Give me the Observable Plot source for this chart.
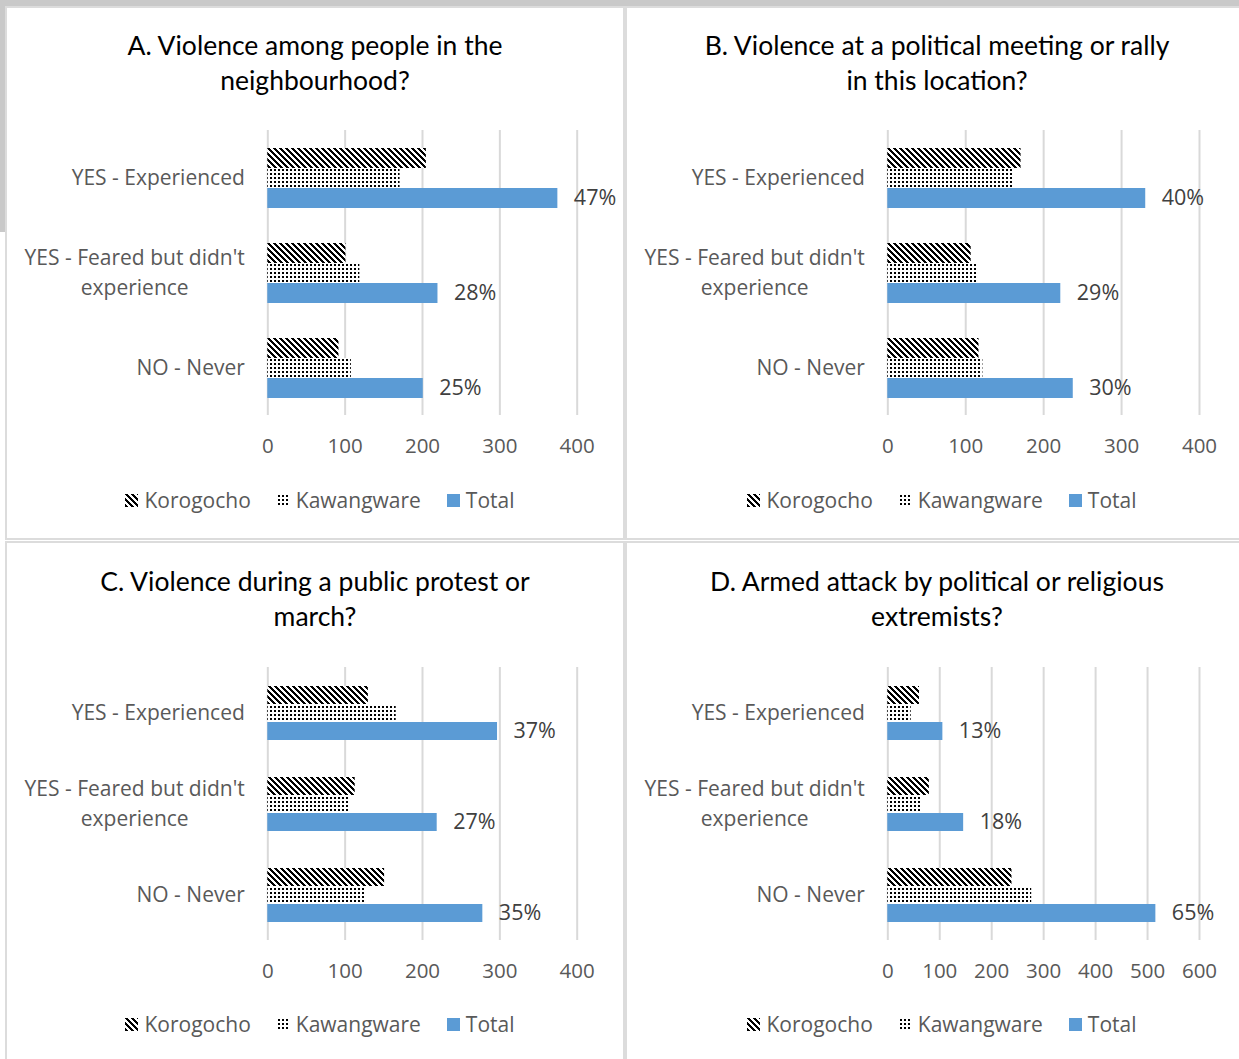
<!DOCTYPE html>
<html><head><meta charset="utf-8">
<script src="https://cdn.jsdelivr.net/npm/d3@7"></script>
<script src="https://cdn.jsdelivr.net/npm/@observablehq/plot@0.6"></script>
<style>
body{margin:0;background:#fff;width:1239px;height:1059px;overflow:hidden;position:relative;font-family:'Open Sans',sans-serif;}
.strip{position:absolute;background:#c9c9c9;}
.panel{position:absolute;box-sizing:border-box;border:2px solid #dcdcdc;background:#fff;}
.title{position:absolute;text-align:center;font-family:Lato,sans-serif;font-size:26.5px;line-height:35px;color:#000;white-space:nowrap;}
.legend{position:absolute;display:flex;justify-content:center;align-items:center;font-family:'Open Sans',sans-serif;font-size:21px;color:#595959;white-space:nowrap;}
.legend .item{display:flex;align-items:center;margin:0 13px;}
.legend svg{margin-right:6px;}
.plot{position:absolute;}
</style></head><body>
<svg width="0" height="0" style="position:absolute"><defs>
<pattern id="patKor" patternUnits="userSpaceOnUse" width="6" height="6">
  <rect width="6" height="6" fill="#fff"/>
  <g fill="#000" shape-rendering="crispEdges">
    <rect x="0" y="0" width="3" height="1"/>
    <rect x="1" y="1" width="3" height="1"/>
    <rect x="2" y="2" width="3" height="1"/>
    <rect x="3" y="3" width="3" height="1"/>
    <rect x="4" y="4" width="2" height="1"/><rect x="0" y="4" width="1" height="1"/>
    <rect x="5" y="5" width="1" height="1"/><rect x="0" y="5" width="2" height="1"/>
  </g>
</pattern>
<pattern id="patKaw" patternUnits="userSpaceOnUse" width="4" height="4">
  <rect width="4" height="4" fill="#fff"/>
  <rect x="1" y="1" width="2" height="2" fill="#000" shape-rendering="crispEdges"/>
</pattern>
</defs></svg>
<div class="strip" style="left:0;top:0;width:1239px;height:6px"></div>
<div class="strip" style="left:0;top:0;width:5px;height:232px"></div>
<script>
// ---- data ----
const categories = ["YES - Experienced", "YES - Feared but didn't experience", "NO - Never"];
const series = ["Korogocho", "Kawangware", "Total"];

const titleA = ["A. Violence among people in the", "neighbourhood?"];
const korogochoA = [205, 101, 92];
const kawangwareA = [171, 119, 108];
const totalA = [375, 220, 201];
const pctA = [47, 28, 25];

const titleB = ["B. Violence at a political meeting or rally", "in this location?"];
const korogochoB = [171, 107, 117];
const kawangwareB = [161, 114, 122];
const totalB = [331, 222, 238];
const pctB = [40, 29, 30];

const titleC = ["C. Violence during a public protest or", "march?"];
const korogochoC = [130, 113, 151];
const kawangwareC = [166, 106, 125];
const totalC = [297, 219, 278];
const pctC = [37, 27, 35];

const titleD = ["D. Armed attack by political or religious", "extremists?"];
const korogochoD = [61, 80, 239];
const kawangwareD = [45, 65, 277];
const totalD = [106, 146, 516];
const pctD = [13, 18, 65];

const xMaxA = 400, xMaxB = 400, xMaxC = 400, xMaxD = 600;

// ---- layout ----
const fills = ["url(#patKor)", "url(#patKaw)", "#5B9BD5"];
const panels = [
  {title: titleA, values: [korogochoA, kawangwareA, totalA], pct: pctA, xMax: xMaxA,
   box: [5, 6, 625, 540], plotX: [267.3, 576.7], plotY: [130, 415], outer: 0.875, titleTop: 27.5, legendY: 500},
  {title: titleB, values: [korogochoB, kawangwareB, totalB], pct: pctB, xMax: xMaxB,
   box: [625, 6, 1249, 540], plotX: [887.3, 1199], plotY: [130, 415], outer: 0.875, titleTop: 27.5, legendY: 500},
  {title: titleC, values: [korogochoC, kawangwareC, totalC], pct: pctC, xMax: xMaxC,
   box: [5, 541, 625, 1075], plotX: [267.3, 576.7], plotY: [667, 940], outer: 0.9, titleTop: 563.5, legendY: 1024},
  {title: titleD, values: [korogochoD, kawangwareD, totalD], pct: pctD, xMax: xMaxD,
   box: [625, 541, 1249, 1075], plotX: [887.3, 1199], plotY: [667, 940], outer: 0.9, titleTop: 563.5, legendY: 1024}
];

function el(tag, cls, style) {
  const e = document.createElement(tag);
  if (cls) e.className = cls;
  Object.assign(e.style, style || {});
  document.body.appendChild(e);
  return e;
}

for (const p of panels) {
  const [bx0, by0, bx1, by1] = p.box;
  el("div", "panel", {left: bx0 + "px", top: by0 + "px", width: (bx1 - bx0) + "px", height: (by1 - by0) + "px"});

  const t = el("div", "title", {left: bx0 + "px", width: (bx1 - bx0) + "px", top: p.titleTop + "px"});
  t.innerHTML = p.title.join("<br>");

  const rows = categories.flatMap((cat, i) => series.map((s, j) => ({cat, series: s, value: p.values[j][i]})));
  const totals = categories.map((cat, i) => ({cat, series: "Total", value: p.values[2][i], pct: p.pct[i]}));
  const ticks = d3.range(0, p.xMax + 1, 100);
  const svgWidth = bx1 - bx0;
  const mt = 10, mb = 50;
  const chart = Plot.plot({
    width: svgWidth,
    height: mt + (p.plotY[1] - p.plotY[0]) + mb,
    marginLeft: p.plotX[0] - bx0,
    marginRight: bx0 + svgWidth - p.plotX[1],
    marginTop: mt,
    marginBottom: mb,
    style: {fontFamily: "'Open Sans', sans-serif", fontSize: "20px", color: "#595959", background: "transparent", overflow: "visible"},
    x: {domain: [0, p.xMax]},
    y: {domain: series, paddingInner: 0, paddingOuter: p.outer, axis: null},
    fy: {domain: categories, padding: 0},
    color: {domain: series, range: fills},
    marks: [
      Plot.gridX(ticks, {stroke: "#d9d9d9", strokeOpacity: 1, strokeWidth: 2}),
      Plot.barX(rows, {x: "value", y: "series", fy: "cat", fill: "series"}),
      Plot.text(totals, {x: "value", y: "series", fy: "cat", text: d => d.pct + "%", dx: 16, textAnchor: "start", fill: "#404040", fontSize: 21.5}),
      Plot.axisX(ticks, {tickSize: 0, tickPadding: 23, fontSize: 20.5, label: null}),
      Plot.axisFy({anchor: "left", tickSize: 0, tickPadding: 23, fontSize: 21, lineHeight: 1.43, dy: -3, label: null,
        tickFormat: d => d.replace(" didn't ", " didn't\n")})
    ]
  });
  chart.classList.add("plot");
  chart.style.left = bx0 + "px";
  chart.style.top = (p.plotY[0] - mt) + "px";
  chart.style.position = "absolute";
  document.body.appendChild(chart);

  // center multi-line category labels like the original
  chart.querySelectorAll('g[aria-label="fy-axis tick label"] text').forEach(txt => {
    const spans = txt.querySelectorAll("tspan");
    if (spans.length > 1) {
      let w = 0;
      spans.forEach(s => { w = Math.max(w, s.getComputedTextLength()); });
      txt.setAttribute("text-anchor", "middle");
      spans.forEach(s => s.setAttribute("x", -w / 2));
    }
  });

  const lg = el("div", "legend", {left: (bx0 + 5) + "px", width: svgWidth + "px", top: (p.legendY - 15) + "px", height: "30px"});
  series.forEach((s, j) => {
    const item = document.createElement("div");
    item.className = "item";
    item.innerHTML = `<svg width="13" height="13"><rect width="13" height="13" fill="${fills[j]}"/></svg><span>${s}</span>`;
    lg.appendChild(item);
  });
}
</script>
</body></html>
